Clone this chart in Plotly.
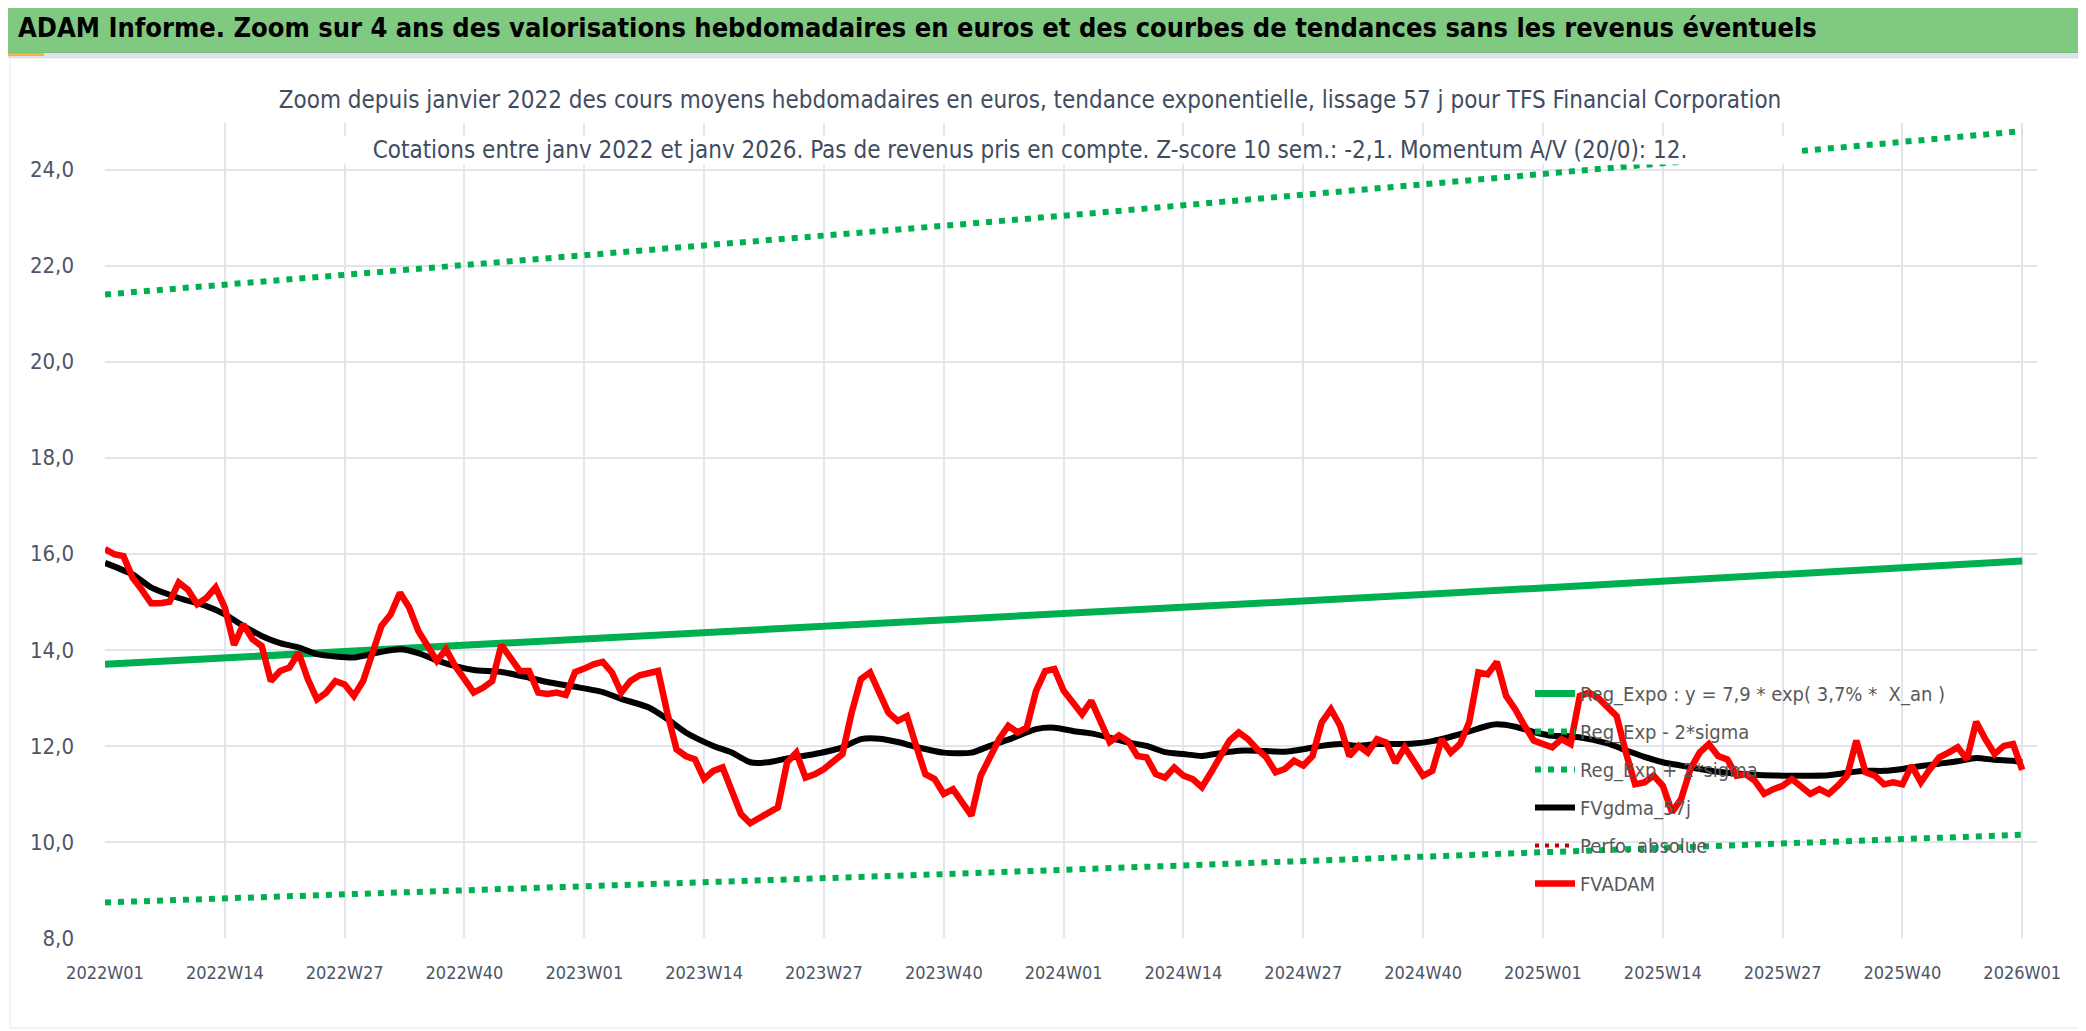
import plotly.graph_objects as go

# ---- figure geometry (pixels); the page puts the figure 8 px from the window corner
W, H = 2086, 1031
OFF = 8
ML, MR, MT, MB = 97, 57, 115, 101
PW, PH = W - ML - MR, H - MT - MB

def px_x(p):
    return (p - OFF - ML) / PW

def px_y(p):
    return (H - MB - (p - OFF)) / PH

# ---- data
weeks = [f"{y}W{w:02d}" for y in range(2022, 2026) for w in range(1, 53)] + ["2026W01"]

tick_labels = ["2022W01", "2022W14", "2022W27", "2022W40",
               "2023W01", "2023W14", "2023W27", "2023W40",
               "2024W01", "2024W14", "2024W27", "2024W40",
               "2025W01", "2025W14", "2025W27", "2025W40", "2026W01"]

reg_expo = [13.70, 13.83, 13.95, 14.08, 14.21, 14.34, 14.47, 14.60, 14.74,
            14.87, 15.01, 15.15, 15.29, 15.43, 15.57, 15.71, 15.85]
reg_minus = [8.74, 8.82, 8.90, 8.99, 9.07, 9.16, 9.24, 9.33, 9.42,
             9.51, 9.60, 9.69, 9.78, 9.87, 9.96, 10.06, 10.15]
reg_plus = [21.40, 21.60, 21.80, 22.00, 22.20, 22.41, 22.62, 22.83, 23.04,
            23.25, 23.47, 23.69, 23.91, 24.13, 24.35, 24.58, 24.80]

fvadam = [
    16.10, 15.99, 15.95, 15.50, 15.25, 14.97, 14.97, 15.00, 15.40, 15.25,
    14.95, 15.08, 15.30, 14.88, 14.10, 14.53, 14.22, 14.08, 13.35, 13.56,
    13.63, 13.94, 13.39, 12.97, 13.11, 13.35, 13.28, 13.04, 13.35, 13.94,
    14.50, 14.74, 15.19, 14.88, 14.39, 14.08, 13.77, 14.01, 13.66, 13.39,
    13.11, 13.21, 13.35, 14.10, 13.80, 13.56, 13.56, 13.11, 13.08, 13.11,
    13.06, 13.54, 13.61, 13.70, 13.75, 13.53, 13.11, 13.35, 13.47, 13.53,
    13.56, 12.69, 11.93, 11.79, 11.72, 11.31, 11.48, 11.55, 11.10, 10.58,
    10.39, 10.51, 10.62, 10.72, 11.66, 11.86, 11.34, 11.41, 11.52, 11.66,
    11.83, 12.69, 13.39, 13.53, 13.14, 12.69, 12.52, 12.62, 12.00, 11.41,
    11.31, 11.00, 11.10, 10.82, 10.55, 11.38, 11.79, 12.14, 12.42, 12.28,
    12.38, 13.14, 13.56, 13.60, 13.15, 12.90, 12.66, 12.94, 12.52, 12.08,
    12.22, 12.10, 11.79, 11.76, 11.41, 11.34, 11.55, 11.38, 11.31, 11.14,
    11.45, 11.79, 12.11, 12.28, 12.14, 11.93, 11.76, 11.45, 11.52, 11.69,
    11.59, 11.79, 12.49, 12.76, 12.42, 11.79, 12.00, 11.86, 12.14, 12.07,
    11.65, 11.97, 11.65, 11.38, 11.48, 12.14, 11.86, 12.04, 12.49, 13.53,
    13.49, 13.75, 13.04, 12.76, 12.42, 12.11, 12.04, 11.97, 12.14, 12.04,
    13.04, 13.11, 13.00, 12.83, 12.62, 11.86, 11.20, 11.24, 11.38, 11.17,
    10.62, 10.90, 11.52, 11.86, 12.04, 11.79, 11.72, 11.38, 11.41, 11.27,
    11.00, 11.10, 11.17, 11.31, 11.14, 11.00, 11.10, 11.00, 11.17, 11.38,
    12.11, 11.45, 11.38, 11.20, 11.24, 11.20, 11.59, 11.24, 11.52, 11.76,
    11.86, 11.97, 11.72, 12.50, 12.14, 11.83, 12.00, 12.04, 11.50,
]

gdma_idx = [0, 3, 5, 8, 11, 13, 15, 17, 19, 21, 23, 25, 27, 30, 32, 34, 36, 38,
            40, 43, 46, 48, 51, 54, 56, 59, 61, 63, 66, 68, 70, 72, 74, 77, 80,
            82, 84, 86, 88, 91, 94, 96, 98, 101, 103, 105, 107, 109, 111, 113,
            115, 117, 119, 121, 123, 125, 128, 130, 132, 134, 136, 138, 140,
            142, 144, 146, 148, 150, 151, 153, 155, 157, 159, 161, 163, 165,
            167, 169, 171, 173, 175, 178, 180, 182, 185, 187, 189, 191, 193,
            195, 197, 199, 201, 203, 205, 207, 208]
gdma_val = [15.81, 15.57, 15.30, 15.08, 14.91, 14.74, 14.50, 14.29, 14.14, 14.05,
            13.91, 13.86, 13.84, 13.96, 14.01, 13.93, 13.78, 13.66, 13.58, 13.54,
            13.42, 13.33, 13.23, 13.12, 12.98, 12.80, 12.56, 12.28, 12.00, 11.86,
            11.66, 11.66, 11.74, 11.83, 11.97, 12.14, 12.15, 12.08, 11.98, 11.86,
            11.86, 12.00, 12.13, 12.35, 12.38, 12.31, 12.26, 12.17, 12.07, 12.00,
            11.87, 11.83, 11.79, 11.85, 11.90, 11.90, 11.88, 11.93, 12.00, 12.04,
            12.00, 12.04, 12.04, 12.05, 12.10, 12.19, 12.30, 12.42, 12.45, 12.40,
            12.29, 12.21, 12.20, 12.14, 12.05, 11.91, 11.77, 11.66, 11.59, 11.52,
            11.46, 11.41, 11.39, 11.38, 11.38, 11.39, 11.44, 11.48, 11.48, 11.52,
            11.58, 11.63, 11.68, 11.75, 11.71, 11.69, 11.66]

header = ("ADAM Informe. Zoom sur 4 ans des valorisations hebdomadaires en euros "
          "et des courbes de tendances sans les revenus éventuels")
subtitle_1 = ("Zoom depuis janvier 2022 des cours moyens hebdomadaires en euros, "
              "tendance exponentielle, lissage 57 j pour TFS Financial Corporation")
subtitle_2 = ("Cotations entre janv 2022 et janv 2026. Pas de revenus pris en compte. "
              "Z-score 10 sem.: -2,1. Momentum A/V (20/0): 12.")

FONT = "DejaVu Sans Condensed, Liberation Sans Narrow, sans-serif"
GREEN = "#00B050"
TXT = "#4D5666"

# ---- traces
fig = go.Figure()
fig.add_trace(go.Scatter(x=tick_labels, y=reg_expo, mode="lines",
                         name="Reg_Expo : y = 7,9 * exp( 3,7% *  X_an )", legendgroup="a",
                         line=dict(color=GREEN, width=7)))
fig.add_trace(go.Scatter(x=tick_labels, y=reg_minus, mode="lines",
                         name="Reg_Exp - 2*sigma", legendgroup="b",
                         line=dict(color=GREEN, width=6, dash="6px,7px")))
fig.add_trace(go.Scatter(x=tick_labels, y=reg_plus, mode="lines",
                         name="Reg_Exp + 2*sigma", legendgroup="c",
                         line=dict(color=GREEN, width=6, dash="6px,7px")))
fig.add_trace(go.Scatter(x=[weeks[i] for i in gdma_idx], y=gdma_val, mode="lines",
                         name="FVgdma_57j", legendgroup="d",
                         line=dict(color="black", width=6, shape="spline", smoothing=0.6)))
fig.add_trace(go.Scatter(x=[weeks[0]], y=[None], mode="lines",
                         name="Perfo. absolue", legendgroup="e",
                         line=dict(color="#C00000", width=4, dash="4px,6px")))
fig.add_trace(go.Scatter(x=weeks, y=fvadam, mode="lines",
                         name="FVADAM", legendgroup="f",
                         line=dict(color="#FF0000", width=6.5)))

# ---- layout
fig.update_layout(
    width=W, height=H,
    margin=dict(l=ML, r=MR, t=MT, b=MB, pad=0),
    paper_bgcolor="white",
    plot_bgcolor="white",
    separators=", ",
    font=dict(family=FONT, color=TXT, size=20),
    showlegend=True,
    legend=dict(
        x=px_x(1530), y=px_y(674), xanchor="left", yanchor="top",
        bgcolor="rgba(0,0,0,0)",
        font=dict(size=20, color="#595959"),
        traceorder="grouped",
        tracegroupgap=9,
        itemwidth=40,
    ),
    xaxis=dict(
        type="category",
        categoryorder="array", categoryarray=weeks,
        tickmode="array", tickvals=tick_labels, ticktext=tick_labels,
        range=[0, 209.6],
        showgrid=True, gridcolor="#E2E5EC", gridwidth=2,
        zeroline=False, showline=False,
        tickfont=dict(size=18, color=TXT),
        ticklabelstandoff=22,
    ),
    yaxis=dict(
        range=[8, 24.97],
        tickmode="array", tickvals=[8, 10, 12, 14, 16, 18, 20, 22, 24],
        tickformat=".1f",
        showgrid=True, gridcolor="#E2E5EC", gridwidth=2,
        zeroline=False, showline=False,
        tickfont=dict(size=22, color=TXT),
        ticklabelstandoff=30,
    ),
    shapes=[
        # header band
        dict(type="rect", xref="paper", yref="paper",
             x0=px_x(0), x1=px_x(W + 10), y0=px_y(53), y1=px_y(0),
             fillcolor="#80C980", line=dict(color="#6FAF6F", width=1), layer="above"),
        dict(type="rect", xref="paper", yref="paper",
             x0=px_x(0), x1=px_x(W + 10), y0=px_y(58), y1=px_y(53),
             fillcolor="#DDE0E6", line=dict(width=0), layer="above"),
        dict(type="rect", xref="paper", yref="paper",
             x0=px_x(OFF), x1=px_x(44), y0=px_y(56), y1=px_y(53),
             fillcolor="#F2B632", line=dict(width=0), layer="above"),
        # chart frame
        dict(type="rect", xref="paper", yref="paper",
             x0=px_x(10), x1=px_x(W - 3), y0=px_y(H - 3), y1=px_y(58),
             fillcolor="rgba(0,0,0,0)", line=dict(color="#E4E6EA", width=1), layer="below"),
    ],
    annotations=[
        dict(text="<b>" + header + "</b>", xref="paper", yref="paper",
             x=px_x(16), y=px_y(27), xanchor="left", yanchor="middle",
             showarrow=False, font=dict(size=27, color="black", family=FONT)),
        dict(text=subtitle_1, xref="paper", yref="paper",
             x=px_x(1030), y=px_y(100), xanchor="center", yanchor="middle",
             showarrow=False, bgcolor="white", width=1540, height=34,
             font=dict(size=24, color="#3F4D62", family=FONT)),
        dict(text=subtitle_2, xref="paper", yref="paper",
             x=px_x(1030), y=px_y(150), xanchor="center", yanchor="middle",
             showarrow=False, bgcolor="white", width=1540, height=26,
             font=dict(size=24, color="#3F4D62", family=FONT)),
    ],
)

fig.write_html("out.html")
